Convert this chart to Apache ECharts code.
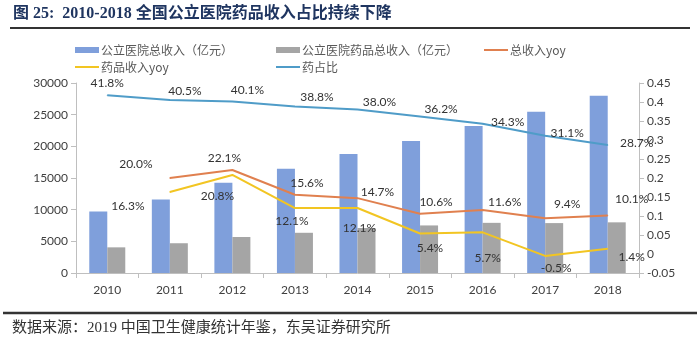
<!DOCTYPE html>
<html><head><meta charset="utf-8">
<script src="https://cdn.jsdelivr.net/npm/echarts@6/dist/echarts.min.js"></script>
<style>html,body{margin:0;padding:0;background:#fff}#c{width:700px;height:344px}</style>
</head><body><div id="c"></div>
<script>
var categories = ['2010','2011','2012','2013','2014','2015','2016','2017','2018'];
var totalRevenue = [9700, 11600, 14250, 16450, 18800, 20850, 23200, 25450, 28000];
var drugRevenue = [4050, 4700, 5680, 6350, 7110, 7510, 7920, 7880, 8000];
var totalYoy = [null, 0.200, 0.221, 0.156, 0.147, 0.106, 0.116, 0.094, 0.101];
var drugYoy = [null, 0.163, 0.208, 0.121, 0.121, 0.054, 0.057, -0.005, 0.014];
var drugShare = [0.418, 0.405, 0.401, 0.388, 0.380, 0.362, 0.343, 0.311, 0.287];
var leftTicks = {min: 0, max: 30000, interval: 5000};
var rightTicks = {min: -0.05, max: 0.45, interval: 0.05};

// label placement (style only)
var shareOff = [[0,-12],[15,-9],[15,-11],[22,-9],[22,-7],[21,-7],[25,-2],[22,-3],[29,-2]];
var totOff = [null,[-34,-14],[-8,-12],[12,-12],[20,-6],[16,-12],[22,-8],[22,-14],[24,-16]];
var drugOff = [null,[-42,14],[-15,21],[-3,13],[2,20],[10,15],[5,26],[11,12],[24,8]];

var numFont = "Lato, 'Noto Sans CJK SC', sans-serif";
var cjkFont = "'Noto Sans CJK SC', sans-serif";

function lineData(vals, offs) {
  return vals.map(function (v, i) {
    if (v === null) return '-';
    return {value: v, label: {offset: offs[i]}};
  });
}
var lbl = {show: true, position: 'inside', fontSize: 12, color: '#333', fontFamily: numFont,
  formatter: function (p) { return (p.value * 100).toFixed(1) + '%'; }};

var names = ['公立医院总收入（亿元）','公立医院药品总收入（亿元）','总收入yoy','药品收入yoy','药占比'];
var colors = ['#7f9fdb','#a5a5a5','#e0804f','#f2c522','#4f9cc8'];

function lg(name, left, top, h) {
  return {data: [name], left: left, top: top, icon: 'rect', itemWidth: 24, itemHeight: h, itemGap: 0,
    textStyle: {fontSize: 12, color: '#595959', fontFamily: cjkFont, padding: [0,0,0,-3]}, selectedMode: false};
}

var chart = echarts.init(document.getElementById('c'));
chart.setOption({
  animation: false,
  color: colors,
  legend: [lg(names[0], 70, 39, 6), lg(names[1], 271, 39, 6), lg(names[2], 479, 39, 2),
           lg(names[3], 70, 56, 2), lg(names[4], 271, 56, 2)],
  grid: {left: 76, right: 61, top: 83, bottom: 71},
  xAxis: {type: 'category', data: categories,
    axisLine: {lineStyle: {color: '#bfbfbf'}},
    axisTick: {show: true, length: 5, lineStyle: {color: '#bfbfbf'}},
    axisLabel: {fontSize: 12, color: '#404040', margin: 11, fontFamily: numFont}},
  yAxis: [
    {type: 'value', min: leftTicks.min, max: leftTicks.max, interval: leftTicks.interval,
      axisLine: {show: true, lineStyle: {color: '#bfbfbf'}},
      axisTick: {show: true, length: 5, lineStyle: {color: '#bfbfbf'}},
      splitLine: {show: false},
      axisLabel: {fontSize: 12, color: '#404040', margin: 8, fontFamily: numFont,
        formatter: function (v) { return String(v); }}},
    {type: 'value', min: rightTicks.min, max: rightTicks.max, interval: rightTicks.interval,
      axisLine: {show: true, lineStyle: {color: '#bfbfbf'}},
      axisTick: {show: true, length: 5, lineStyle: {color: '#bfbfbf'}},
      splitLine: {show: false},
      axisLabel: {fontSize: 12, color: '#404040', margin: 8, fontFamily: numFont,
        formatter: function (v) { return String(+v.toFixed(2)); }}}
  ],
  series: [
    {name: names[0], type: 'bar', data: totalRevenue, barWidth: 18, barGap: '0%', itemStyle: {color: colors[0]}},
    {name: names[1], type: 'bar', data: drugRevenue, barWidth: 18, barGap: '0%', itemStyle: {color: colors[1]}},
    {name: names[2], type: 'line', yAxisIndex: 1, data: lineData(totalYoy, totOff), symbol: 'circle', symbolSize: 1,
      lineStyle: {width: 2, color: colors[2]}, itemStyle: {color: colors[2]}, label: lbl},
    {name: names[3], type: 'line', yAxisIndex: 1, data: lineData(drugYoy, drugOff), symbol: 'circle', symbolSize: 1,
      lineStyle: {width: 2, color: colors[3]}, itemStyle: {color: colors[3]}, label: lbl},
    {name: names[4], type: 'line', yAxisIndex: 1, data: lineData(drugShare, shareOff), symbol: 'circle', symbolSize: 1,
      lineStyle: {width: 2, color: colors[4]}, itemStyle: {color: colors[4]}, label: lbl}
  ],
  graphic: [
    {type: 'text', left: 13, top: 6, style: {text: '图 25:  2010-2018 全国公立医院药品收入占比持续下降',
      font: "bold 16px 'Liberation Serif', 'Noto Sans CJK SC', serif", fill: '#1f3560'}},
    {type: 'line', shape: {x1: 10, y1: 28, x2: 690, y2: 28}, style: {stroke: '#333', lineWidth: 2}},
    {type: 'line', shape: {x1: 3, y1: 313, x2: 697, y2: 313}, style: {stroke: '#333', lineWidth: 2.5}},
    {type: 'text', left: 12, top: 321, style: {text: '数据来源：2019 中国卫生健康统计年鉴，东吴证券研究所',
      font: "15px 'Liberation Serif', 'Noto Sans CJK SC', serif", fill: '#333'}}
  ]
});
</script></body></html>
